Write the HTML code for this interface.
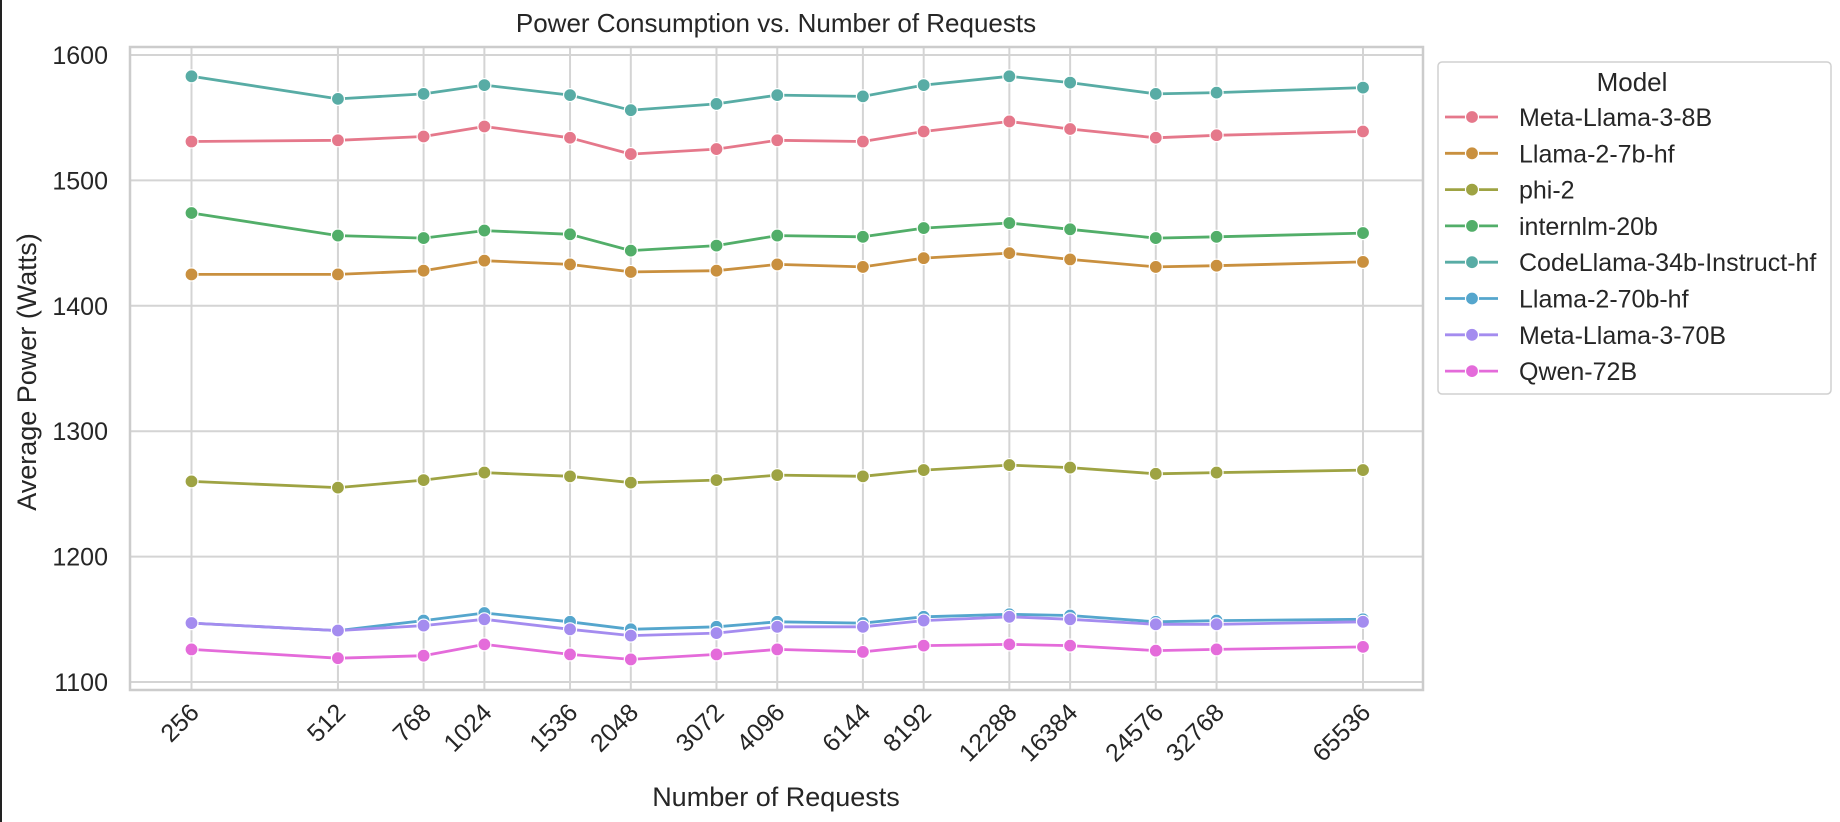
<!DOCTYPE html>
<html><head><meta charset="utf-8"><style>
html,body{margin:0;padding:0;background:#fff;}
svg{display:block;font-family:"Liberation Sans",Arial,sans-serif;}
</style></head><body>
<svg id="chart" width="1840" height="822" viewBox="0 0 1840 822">
<rect x="0" y="0" width="1840" height="822" fill="#fff"/>
<rect x="0" y="0" width="2" height="822" fill="#222"/>
<g id="grid"></g>
<rect x="130" y="47" width="1293" height="643" fill="none" stroke="#cccccc" stroke-width="2.5"/>
<g id="series"></g>
<g id="ticks"></g>
<text x="776" y="32" text-anchor="middle" font-size="26" fill="#262626">Power Consumption vs. Number of Requests</text>
<text x="776" y="806" text-anchor="middle" font-size="27" fill="#262626">Number of Requests</text>
<text transform="translate(36,372) rotate(-90)" text-anchor="middle" font-size="27" fill="#262626">Average Power (Watts)</text>
<g id="legend">
<rect x="1438" y="62" width="393" height="332" rx="4" fill="#fff" stroke="#d0d0d0" stroke-width="1.5"/>
<text x="1632" y="91" text-anchor="middle" font-size="26" fill="#262626">Model</text>
</g>
</svg>
<script>
const requests = [256,512,768,1024,1536,2048,3072,4096,6144,8192,12288,16384,24576,32768,65536];
const tickLabels = ["256","512","768","1024","1536","2048","3072","4096","6144","8192","12288","16384","24576","32768","65536"];
const yTicks = [1100,1200,1300,1400,1500,1600];
const modelNames = ["Meta-Llama-3-8B","Llama-2-7b-hf","phi-2","internlm-20b","CodeLlama-34b-Instruct-hf","Llama-2-70b-hf","Meta-Llama-3-70B","Qwen-72B"];
const metaLlama3_8B = [1531,1532,1535,1543,1534,1521,1525,1532,1531,1539,1547,1541,1534,1536,1539];
const llama2_7b = [1425,1425,1428,1436,1433,1427,1428,1433,1431,1438,1442,1437,1431,1432,1435];
const phi2 = [1260,1255,1261,1267,1264,1259,1261,1265,1264,1269,1273,1271,1266,1267,1269];
const internlm20b = [1474,1456,1454,1460,1457,1444,1448,1456,1455,1462,1466,1461,1454,1455,1458];
const codeLlama34b = [1583,1565,1569,1576,1568,1556,1561,1568,1567,1576,1583,1578,1569,1570,1574];
const llama2_70b = [1147,1141,1149,1155,1148,1142,1144,1148,1147,1152,1154,1153,1148,1149,1150];
const metaLlama3_70B = [1147,1141,1145,1150,1142,1137,1139,1144,1144,1149,1152,1150,1146,1146,1148];
const qwen72B = [1126,1119,1121,1130,1122,1118,1122,1126,1124,1129,1130,1129,1125,1126,1128];
const seriesValues = [metaLlama3_8B,llama2_7b,phi2,internlm20b,codeLlama34b,llama2_70b,metaLlama3_70B,qwen72B];
const colors = ["#e5788b","#c9903f","#9ea343","#52ae69","#58aca5","#55a6cd","#a48cef","#e46bda"];

const NS="http://www.w3.org/2000/svg";
const X0=191.5, X1=1363, Y0=682, Y1=55;
function xScale(v){ return X0 + (Math.log2(v)-Math.log2(256))/(Math.log2(65536)-Math.log2(256))*(X1-X0); }
function yScale(v){ return Y0 - (v-1100)/(1600-1100)*(Y0-Y1); }
function mk(tag, attrs, parent){ const e=document.createElementNS(NS,tag); for(const k in attrs) e.setAttribute(k,attrs[k]); parent.appendChild(e); return e; }

const grid=document.getElementById('grid');
const ticks=document.getElementById('ticks');
yTicks.forEach(v=>{
  const l=mk('line',{x1:130,x2:1423,y1:yScale(v),y2:yScale(v),stroke:'#d4d4d4','stroke-width':2},grid);
  
  
  const t=mk('text',{x:108,y:yScale(v)+9,'text-anchor':'end','font-size':25,fill:'#262626'},ticks);
  t.textContent=String(v);
  
  
});
requests.forEach((r,i)=>{
  const x=xScale(r);
  const l=mk('line',{x1:x,x2:x,y1:47,y2:690,stroke:'#d4d4d4','stroke-width':2},grid);
  
  
  const t=mk('text',{transform:`translate(${x+9},${714}) rotate(-45)`,'text-anchor':'end','font-size':25,fill:'#262626'},ticks);
  t.textContent=tickLabels[i];
  
  
});

const sg=document.getElementById('series');
seriesValues.forEach((vals,si)=>{
  const g=mk('g',{},sg);
  
  
  const pts=vals.map((v,i)=>xScale(requests[i]).toFixed(1)+','+yScale(v).toFixed(1)).join(' ');
  const pl=mk('polyline',{points:pts,fill:'none',stroke:colors[si],'stroke-width':2.8,'stroke-linejoin':'round'},g);
  
  
  vals.forEach((v,i)=>{
    const c=mk('circle',{cx:xScale(requests[i]),cy:yScale(v),r:6.5,fill:colors[si],stroke:'#fff','stroke-width':1.2},g);
    
    
  });
});

const lg=document.getElementById('legend');
modelNames.forEach((n,i)=>{
  const y=117+i*36.3;
  const g=mk('g',{},lg);
  
  
  mk('line',{x1:1445,x2:1498,y1:y,y2:y,stroke:colors[i],'stroke-width':2.8},g);
  mk('circle',{cx:1472,cy:y,r:6.5,fill:colors[i],stroke:'#fff','stroke-width':1.2},g);
  const t=mk('text',{x:1519,y:y+9,'font-size':25,fill:'#262626'},g);
  t.textContent=n;
});
</script>
</body></html>
